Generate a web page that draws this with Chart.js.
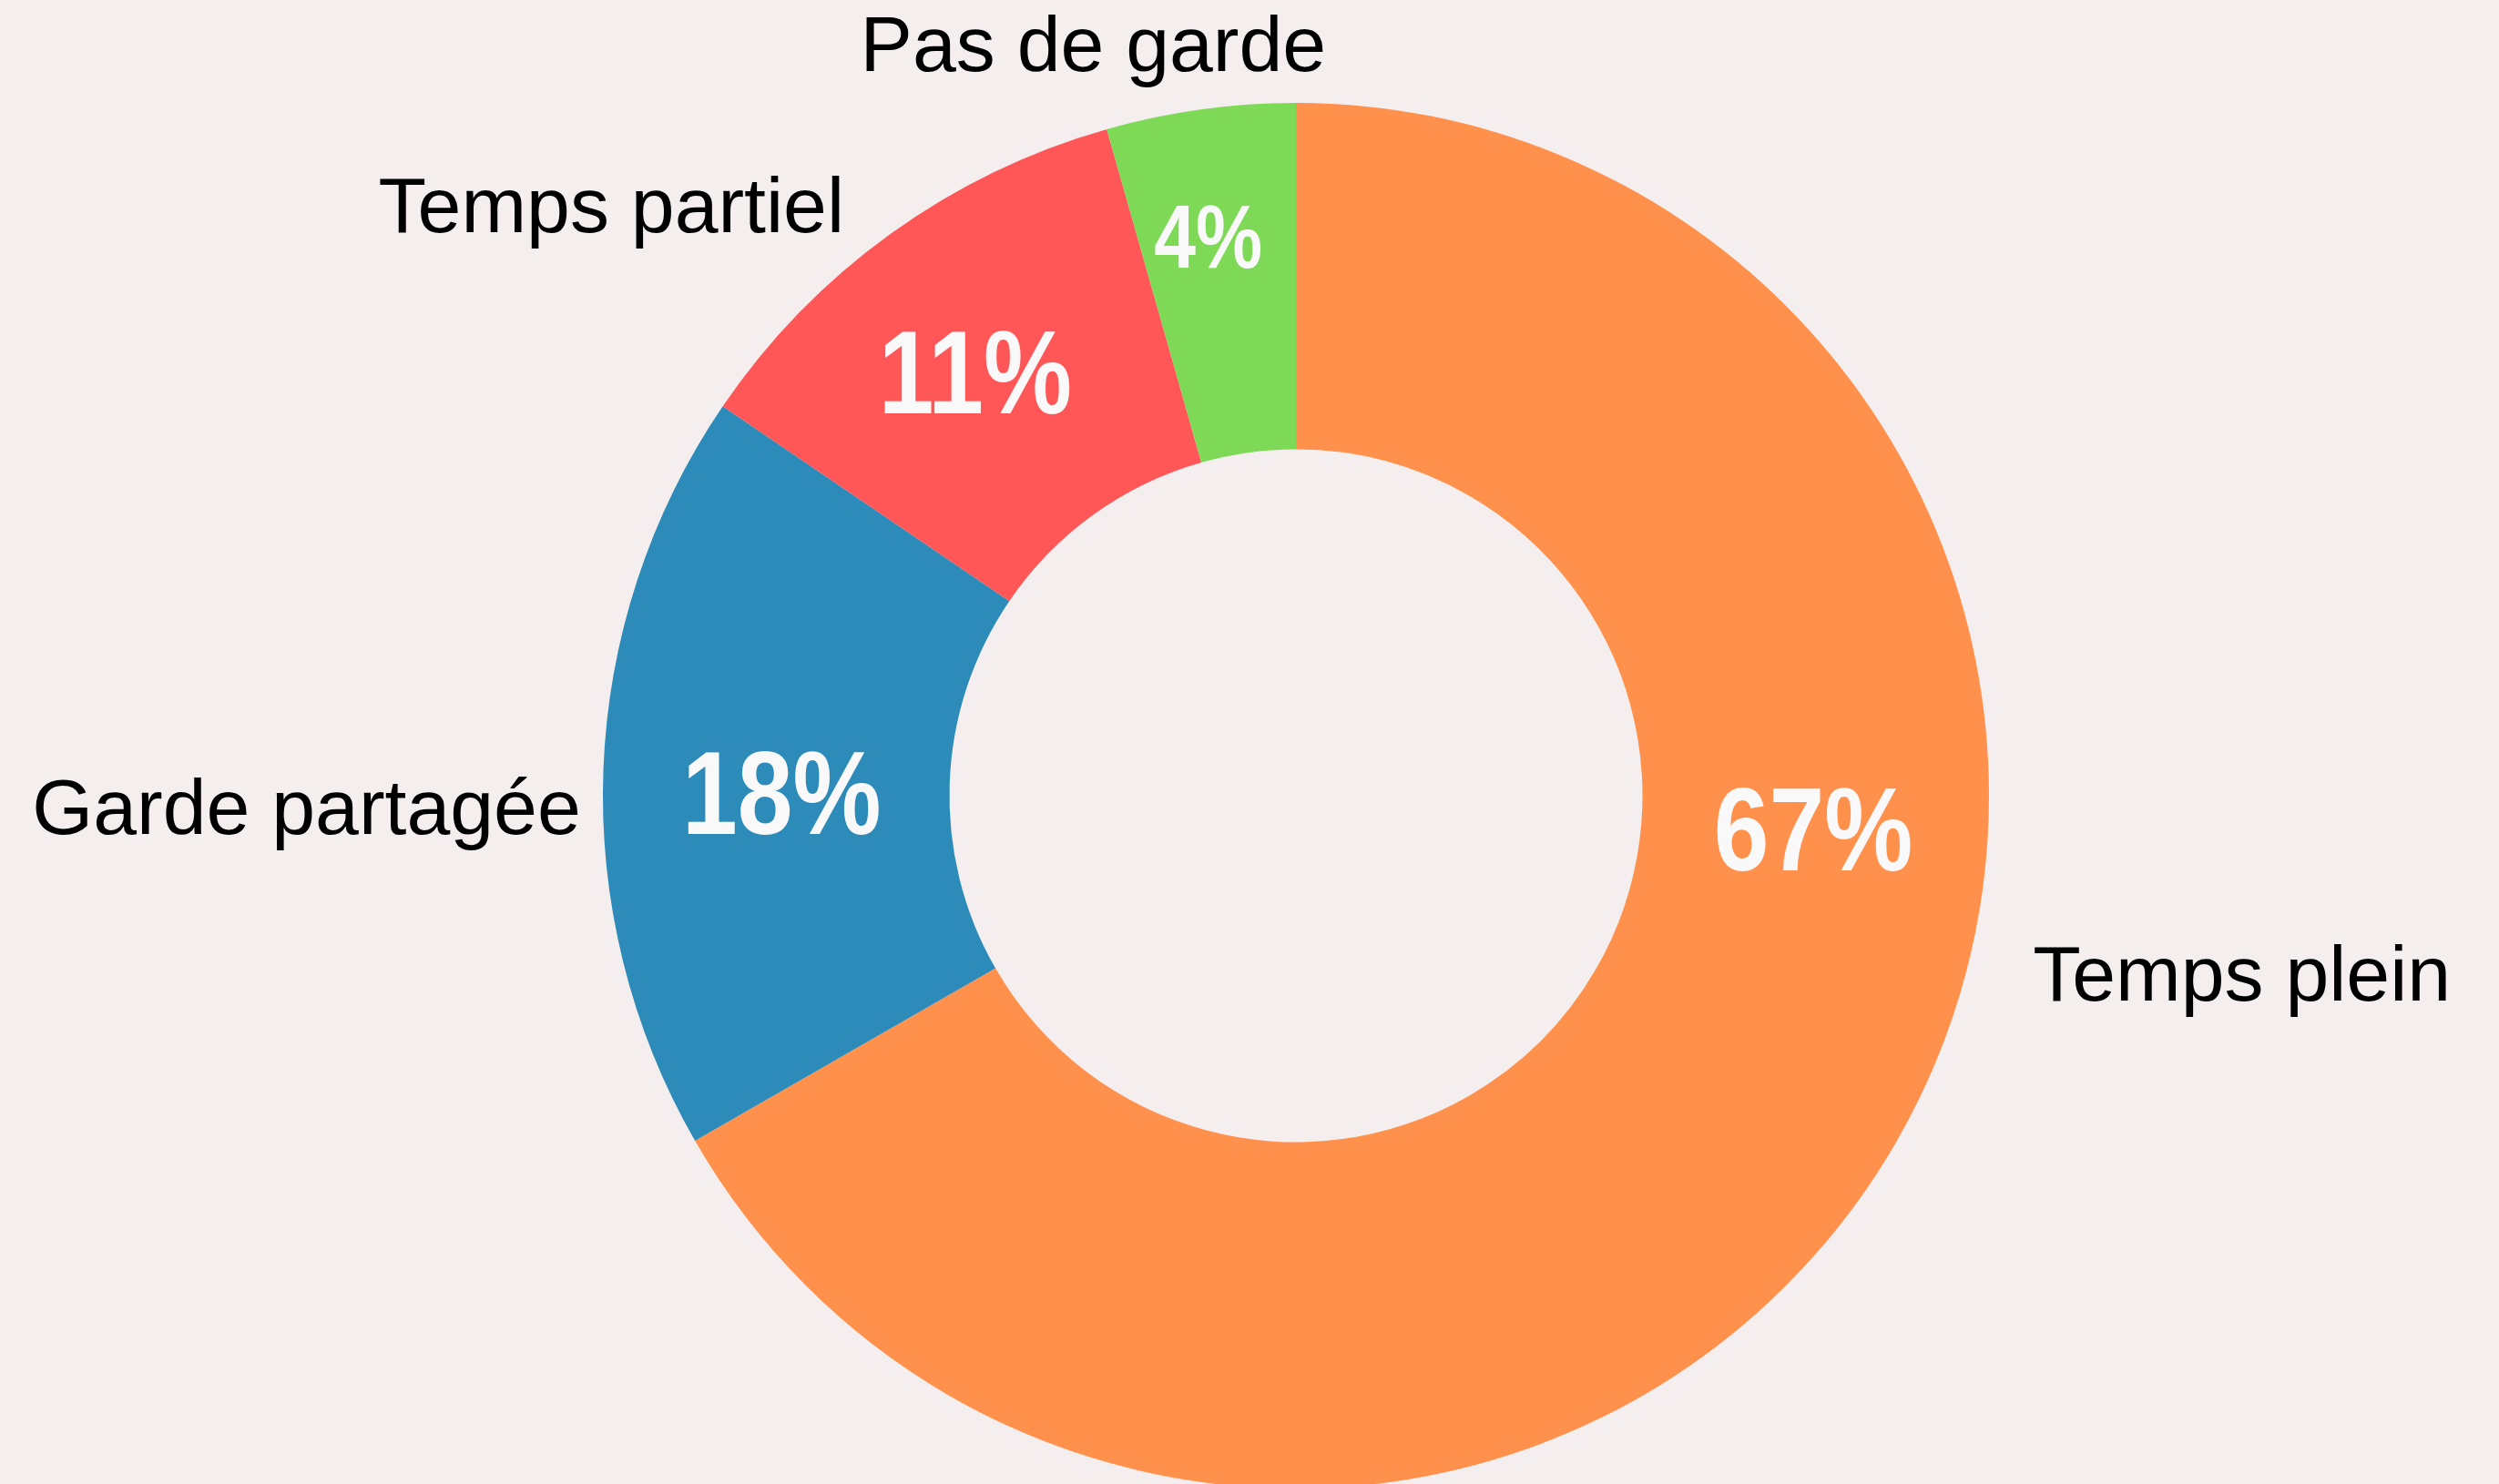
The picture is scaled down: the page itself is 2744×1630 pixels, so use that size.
<!DOCTYPE html>
<html lang="fr">
<head>
    <meta charset="UTF-8">
    <title>Mode de garde</title>
    <script src="https://cdn.jsdelivr.net/npm/chart.js"></script>
    <style>
        html, body {
            margin: 0;
            padding: 0;
            background: #f4eeee;
            overflow: hidden;
            width: 2744px;
            height: 1630px;
        }
        canvas { display: block; }
    </style>
</head>
<body>
    <canvas id="gardeChart" width="2744" height="1640"></canvas>

    <script>
        // data, in drawing order (clockwise from 12 o'clock)
        const categories = ['Temps plein', 'Garde partagée', 'Temps partiel', 'Pas de garde'];
        const shares = [66.7, 17.8, 11.1, 4.4];
        const sliceColors = ['#ff914d', '#2d8bba', '#ff5757', '#7ed957'];

        // label placement: angle in degrees clockwise from top, distance as fraction of outer radius
        const pctAngle = [93.6, 270.4, 322.9, 351.1];
        const pctDist = [0.748, 0.742, 0.767, 0.817];
        const pctSize = [130, 130, 130, 98];
        const nameAngle = [103.6, 269.1, 322.6, 344.9];
        const nameDist = [1.094, 1.032, 1.073, 1.123];
        const nameAlign = ['left', 'right', 'right', 'center'];

        const sliceLabels = {
            id: 'sliceLabels',
            afterDatasetsDraw(chart) {
                const ctx = chart.ctx;
                const arcs = chart.getDatasetMeta(0).data;
                arcs.forEach((arc, i) => {
                    const R = arc.outerRadius;

                    // percentage inside the ring (bold, slightly condensed)
                    let a = (pctAngle[i] - 90) * Math.PI / 180;
                    let x = arc.x + Math.cos(a) * R * pctDist[i];
                    let y = arc.y + Math.sin(a) * R * pctDist[i];
                    const txt = Math.round(shares[i]) + '%';
                    ctx.save();
                    ctx.font = 'bold ' + pctSize[i] + 'px "Liberation Sans", Arial, sans-serif';
                    ctx.fillStyle = '#f9f9f9';
                    ctx.textAlign = 'center';
                    ctx.textBaseline = 'alphabetic';
                    let m = ctx.measureText(txt);
                    ctx.translate(x, y + m.actualBoundingBoxAscent / 2);
                    ctx.scale(0.84, 1);
                    ctx.fillText(txt, 0, 0);
                    ctx.restore();

                    // category name outside
                    a = (nameAngle[i] - 90) * Math.PI / 180;
                    x = arc.x + Math.cos(a) * R * nameDist[i];
                    y = arc.y + Math.sin(a) * R * nameDist[i];
                    ctx.save();
                    ctx.font = '86px "Liberation Sans", Arial, sans-serif';
                    ctx.fillStyle = '#000000';
                    ctx.textAlign = nameAlign[i];
                    m = ctx.measureText('T');
                    ctx.fillText(categories[i], x, y + m.actualBoundingBoxAscent / 2);
                    ctx.restore();
                });
            }
        };

        new Chart(document.getElementById('gardeChart'), {
            type: 'doughnut',
            data: {
                labels: categories,
                datasets: [{
                    data: shares,
                    backgroundColor: sliceColors,
                    borderWidth: 0
                }]
            },
            options: {
                responsive: false,
                animation: false,
                cutout: '50%',
                layout: {
                    padding: { left: 662, right: 560, top: 113, bottom: 5 }
                },
                plugins: {
                    legend: { display: false },
                    tooltip: { enabled: false }
                }
            },
            plugins: [sliceLabels]
        });
    </script>
</body>
</html>
